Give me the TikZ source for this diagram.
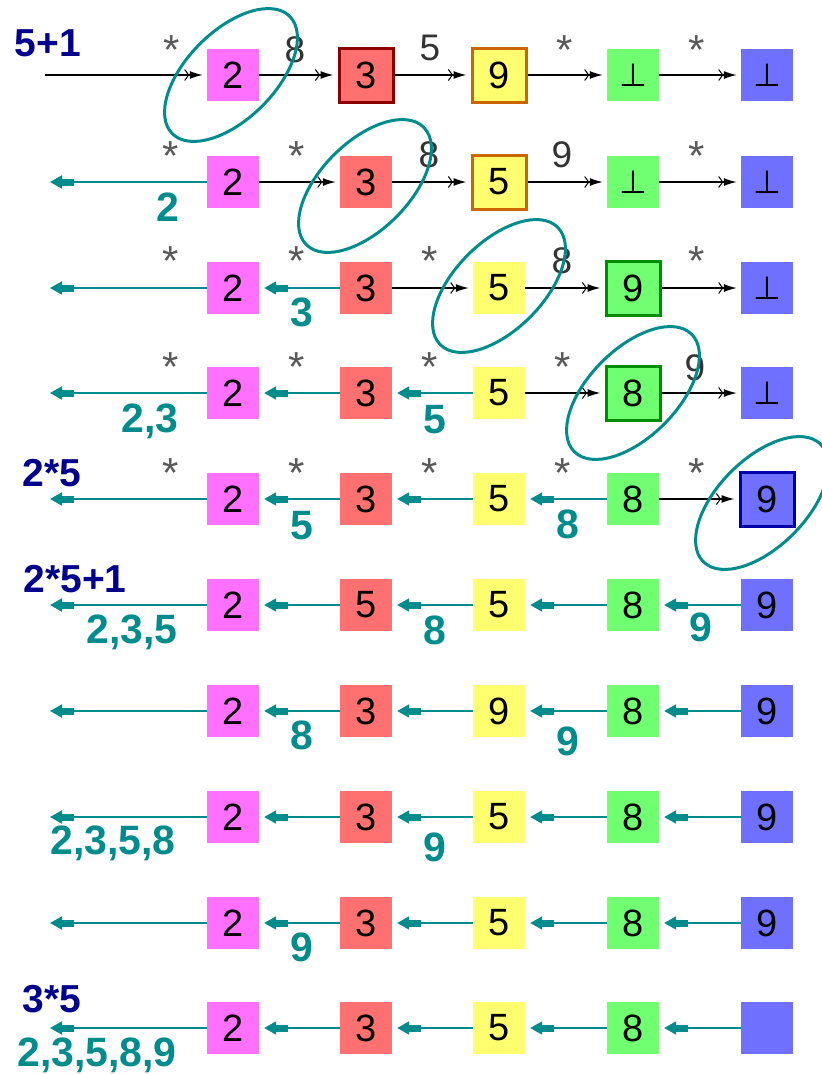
\documentclass[tikz,border=0pt]{standalone}
\usepackage{fontspec}
\setmainfont{Liberation Sans}
\newfontfamily\djv{DejaVu Sans}
\usetikzlibrary{arrows.meta}
\definecolor{cpink}{RGB}{255,112,255}
\definecolor{cred}{RGB}{255,112,112}
\definecolor{cyel}{RGB}{255,255,112}
\definecolor{cgrn}{RGB}{112,255,112}
\definecolor{cblu}{RGB}{112,112,255}
\definecolor{teal2}{RGB}{0,140,140}
\definecolor{navy2}{RGB}{0,0,140}
\definecolor{bred}{RGB}{140,0,0}
\definecolor{borange}{RGB}{204,102,0}
\definecolor{bgreen}{RGB}{0,140,0}
\definecolor{bblue}{RGB}{0,0,170}
\newcommand\boxfnt{\fontsize{38}{40}\selectfont}
\newcommand\perpfnt{\djv\fontsize{32}{36}\selectfont}
\newcommand\tealfnt{\fontsize{41}{44}\selectfont\bfseries}
\newcommand\navyfnt{\fontsize{39}{42}\selectfont\bfseries}
\newcommand\blkfnt{\fontsize{37}{40}\selectfont}
\newcommand\astfnt{\fontsize{42}{44}\selectfont}
\newcommand\pp{{\perpfnt ⊥}}
\tikzset{
  bx/.style={minimum size=52pt, inner sep=0pt, font=\boxfnt},
  pk/.style={bx, fill=cpink},
  rd/.style={bx, fill=cred},
  yl/.style={bx, fill=cyel},
  gn/.style={bx, fill=cgrn},
  bu/.style={bx, fill=cblu},
  hl/.style={draw=#1, line width=3pt, minimum size=54pt},
  fwd/.style={draw=black, line width=1.3pt, -{Straight Barb[length=4pt 0 0,width=11pt 0 0,line width=1pt,sep=0.5pt] Latex[length=13pt 0 0,width=8pt 0 0]}, shorten >=4pt},
  bwd/.style={draw=teal2, line width=2pt, -{Rectangle[length=12pt 0 0,width=7pt 0 0,sep=0pt] Triangle[length=12pt 0 0,width=13pt 0 0]}, shorten >=5pt},
  bwdL/.style={bwd, shorten >=0pt},
  ell/.style={draw=teal2, line width=3pt},
  tl/.style={text=teal2, font=\tealfnt, anchor=base, inner sep=0pt},
  nv/.style={text=navy2, font=\navyfnt, anchor=base, inner sep=0pt},
  lbl/.style={text=black!80, font=\blkfnt, anchor=base, inner sep=0pt},
  ast/.style={text=black!65, font=\astfnt, anchor=base, inner sep=0pt},
}
\begin{document}
\begin{tikzpicture}[x=1pt,y=-1pt]
\useasboundingbox (0,0) rectangle (822,1074);
% ---------- Row 1
\node[pk] (a1) at (233,75) {2};
\node[rd,hl=bred] (a2) at (366,75) {3};
\node[yl,hl=borange] (a3) at (499,75) {9};
\node[gn] (a4) at (633,75) {\pp};
\node[bu] (a5) at (767,75) {\pp};
\coordinate (a0) at (45,75);
\draw[fwd] (a0) -- (a1);
\foreach \i/\j in {1/2,2/3,3/4,4/5} \draw[fwd] (a\i) -- (a\j);
% ---------- Row 2
\node[pk] (b1) at (233,182) {2};
\node[rd] (b2) at (366,182) {3};
\node[yl,hl=borange] (b3) at (499,182) {5};
\node[gn] (b4) at (633,182) {\pp};
\node[bu] (b5) at (767,182) {\pp};
\coordinate (b0) at (50,182);
\draw[bwdL] (b1) -- (b0);
\foreach \i/\j in {1/2,2/3,3/4,4/5} \draw[fwd] (b\i) -- (b\j);
% ---------- Row 3
\node[pk] (c1) at (233,288) {2};
\node[rd] (c2) at (366,288) {3};
\node[yl] (c3) at (499,288) {5};
\node[gn,hl=bgreen] (c4) at (633,288) {9};
\node[bu] (c5) at (767,288) {\pp};
\coordinate (c0) at (50,288);
\draw[bwdL] (c1) -- (c0);
\draw[bwd] (c2) -- (c1);
\foreach \i/\j in {2/3,3/4,4/5} \draw[fwd] (c\i) -- (c\j);
% ---------- Row 4
\node[pk] (d1) at (233,393) {2};
\node[rd] (d2) at (366,393) {3};
\node[yl] (d3) at (499,393) {5};
\node[gn,hl=bgreen] (d4) at (633,393) {8};
\node[bu] (d5) at (767,393) {\pp};
\coordinate (d0) at (50,393);
\draw[bwdL] (d1) -- (d0);
\foreach \i/\j in {2/1,3/2} \draw[bwd] (d\i) -- (d\j);
\foreach \i/\j in {3/4,4/5} \draw[fwd] (d\i) -- (d\j);
% ---------- Row 5
\node[pk] (e1) at (233,499) {2};
\node[rd] (e2) at (366,499) {3};
\node[yl] (e3) at (499,499) {5};
\node[gn] (e4) at (633,499) {8};
\node[bu,hl=bblue] (e5) at (767,499) {9};
\coordinate (e0) at (50,499);
\draw[bwdL] (e1) -- (e0);
\foreach \i/\j in {2/1,3/2,4/3} \draw[bwd] (e\i) -- (e\j);
\draw[fwd] (e4) -- (e5);
% ---------- Rows 6-10 (all backward)
\node[pk] (f1) at (233,605) {2};
\node[rd] (f2) at (366,605) {5};
\node[yl] (f3) at (499,605) {5};
\node[gn] (f4) at (633,605) {8};
\node[bu] (f5) at (767,605) {9};
\coordinate (f0) at (50,605);
\node[pk] (g1) at (233,711) {2};
\node[rd] (g2) at (366,711) {3};
\node[yl] (g3) at (499,711) {9};
\node[gn] (g4) at (633,711) {8};
\node[bu] (g5) at (767,711) {9};
\coordinate (g0) at (50,711);
\node[pk] (h1) at (233,817) {2};
\node[rd] (h2) at (366,817) {3};
\node[yl] (h3) at (499,817) {5};
\node[gn] (h4) at (633,817) {8};
\node[bu] (h5) at (767,817) {9};
\coordinate (h0) at (50,817);
\node[pk] (k1) at (233,923) {2};
\node[rd] (k2) at (366,923) {3};
\node[yl] (k3) at (499,923) {5};
\node[gn] (k4) at (633,923) {8};
\node[bu] (k5) at (767,923) {9};
\coordinate (k0) at (50,923);
\node[pk] (m1) at (233,1028) {2};
\node[rd] (m2) at (366,1028) {3};
\node[yl] (m3) at (499,1028) {5};
\node[gn] (m4) at (633,1028) {8};
\node[bu] (m5) at (767,1028) {};
\coordinate (m0) at (50,1028);
\foreach \r in {f,g,h,k,m}{
  \draw[bwdL] (\r1) -- (\r0);
  \foreach \i/\j in {2/1,3/2,4/3,5/4} \draw[bwd] (\r\i) -- (\r\j);
}
% ---------- navy labels
\node[nv] (n1) at (48,56) {5+1};
\node[nv] (n2) at (52,486) {2*5};
\node[nv] (n3) at (75,592) {2*5+1};
\node[nv] (n4) at (52,1012) {3*5};
% ---------- asterisks
\foreach \x/\y [count=\n] in {172/42,565/42,697/42,
   171/148,297/148,697/148,
   171/253,297/253,430/253,697/253,
   171/359,297/359,430/359,563/359,
   171/465,297/465,430/465,563/465,697/465}
  \node[ast] (s\n) at (\x,\y+22) {*};
% ---------- black labels
\node[lbl] (t1) at (295,49+13.2) {8};
\node[lbl] (t2) at (430,47+13.2) {5};
\node[lbl] (t3) at (429,154+13.2) {8};
\node[lbl] (t4) at (562,154+13.2) {9};
\node[lbl] (t5) at (562,260+13.2) {8};
\node[lbl] (t6) at (695,367+13.2) {9};
% ---------- teal labels
\foreach \x/\y/\t [count=\n] in {168/207/2, 302/312/3, 150/418/{2,3}, 435/419/5,
   302/525/5, 568/524/8, 132/629/{2,3,5}, 435/630/8, 701/627/9,
   302/735/8, 568/741/9, 113/840/{2,3,5,8}, 435/847/9, 302/947/9, 97/1052/{2,3,5,8,9}}
  \node[tl] (u\n) at (\x,\y+14.7) {\t};
% ---------- ellipses
\draw[ell, rotate around={45:(231,75)}] (231,75) ellipse [x radius=83pt, y radius=44pt];
\draw[ell, rotate around={45:(365,186)}] (365,186) ellipse [x radius=83pt, y radius=44pt];
\draw[ell, rotate around={45:(499,286)}] (499,286) ellipse [x radius=83pt, y radius=44pt];
\draw[ell, rotate around={45:(633,393)}] (633,393) ellipse [x radius=83pt, y radius=44pt];
\draw[ell, rotate around={45:(762,503)}] (762,503) ellipse [x radius=83pt, y radius=44pt];
\end{tikzpicture}
\end{document}
